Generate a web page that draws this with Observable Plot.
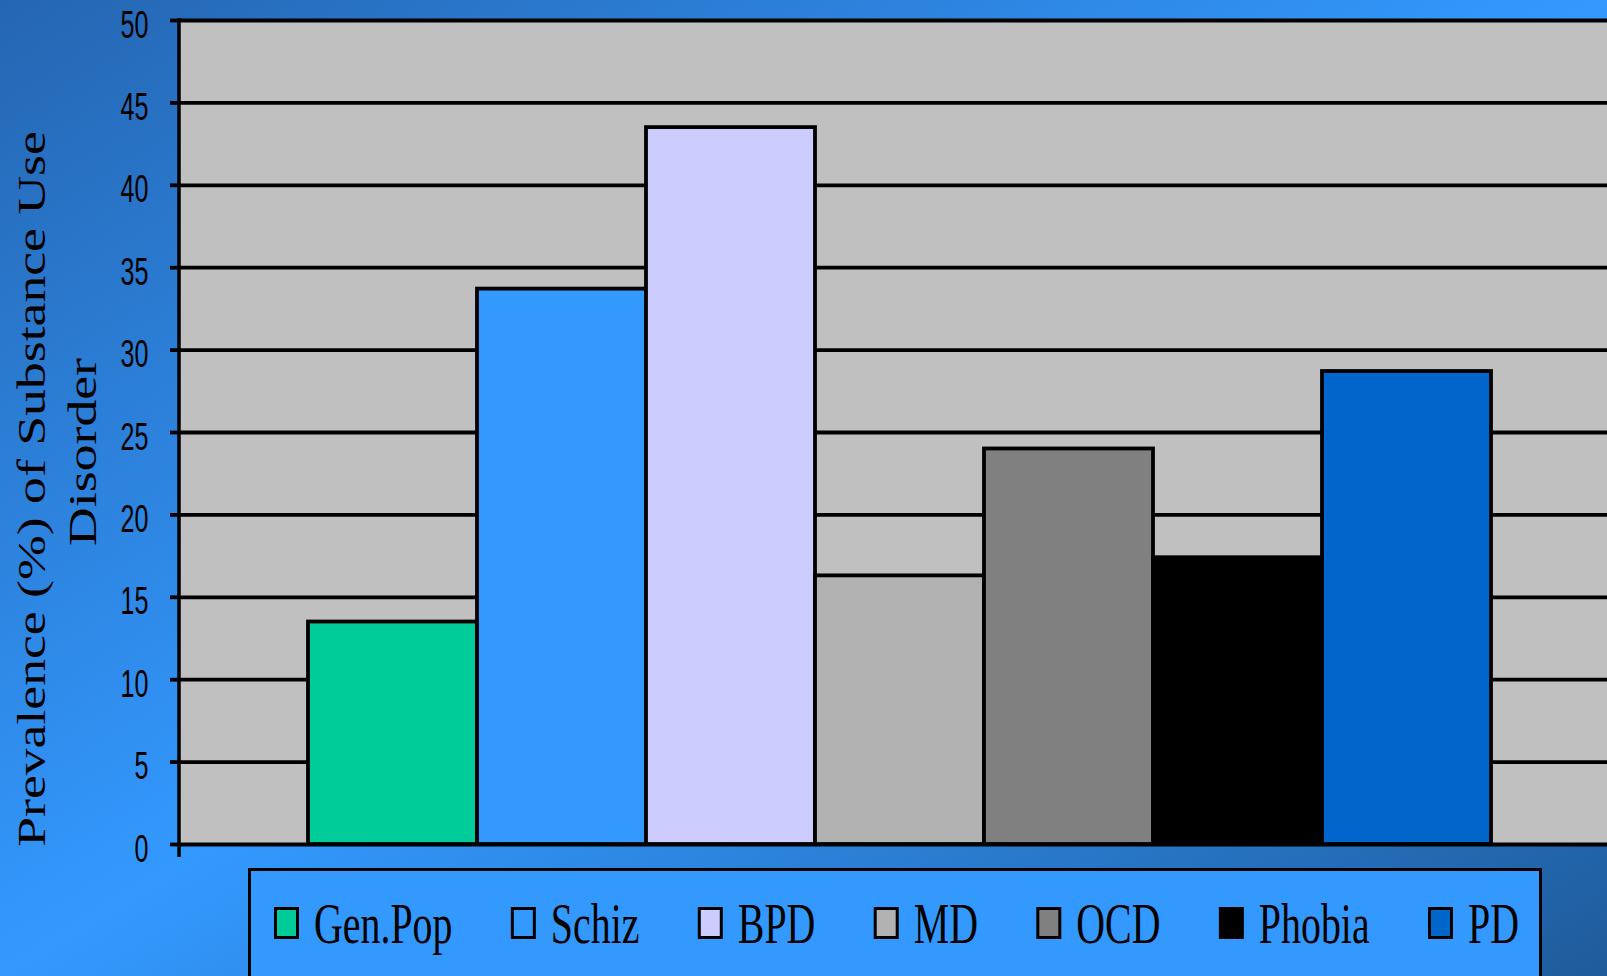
<!DOCTYPE html>
<html>
<head>
<meta charset="utf-8">
<script src="https://cdn.jsdelivr.net/npm/d3@7"></script>
<script src="https://cdn.jsdelivr.net/npm/@observablehq/plot@0.6"></script>
<style>
  html, body { margin: 0; padding: 0; }
  body {
    width: 1607px; height: 976px; overflow: hidden; position: relative;
    background: linear-gradient(to bottom right, #2566b2 0%, #3399ff 50%, #1f5b9b 100%);
  }
  #chart svg { display: block; }
  #legend {
    position: absolute; left: 248px; top: 868px; width: 1294px; height: 140px;
    box-sizing: border-box; border: 3px solid #000; background: #3399ff;
  }
  #legend svg { display: block; }
</style>
</head>
<body>
<div id="chart"></div>
<div id="legend"></div>
<script>
// Prevalence (%) of substance use disorder by diagnosis
const series = ["Gen.Pop", "Schiz", "BPD", "MD", "OCD", "Phobia", "PD"];
const prevalence = [13.5, 33.7, 43.5, 16.3, 24.0, 17.4, 28.7];
const seriesColors = ["#00cc99", "#3399ff", "#ccccff", "#b2b2b2", "#808080", "#000000", "#0066cc"];
const yTicks = [0, 5, 10, 15, 20, 25, 30, 35, 40, 45, 50];
const yLabelLines = ["Prevalence (%) of Substance Use", "Disorder"];

const rows = series.map((s, i) => ({series: s, value: prevalence[i]}));

const W = 1607, H = 866;
const marginLeft = 179;

const plot = Plot.plot({
  width: W,
  height: H,
  marginTop: 20,
  marginBottom: 22,
  marginLeft,
  marginRight: 0,
  style: {background: "transparent", color: "#000", overflow: "visible",
          fontFamily: "'Liberation Sans', Arial, sans-serif"},
  x: {domain: series, range: [marginLeft, 1619], paddingInner: 0, paddingOuter: 0.75, axis: null},
  y: {domain: [0, 50], label: null, axis: null},
  color: {domain: series, range: seriesColors},
  marks: [
    Plot.frame({fill: "#c0c0c0", stroke: null}),
    Plot.ruleY(yTicks, {stroke: "#000", strokeWidth: 3.8}),
    Plot.barY(rows, {x: "series", y: "value", fill: "series", stroke: "#000", strokeWidth: 3.8}),
    Plot.axisY(yTicks, {tickSize: 9, tickPadding: 22, fontSize: 38, stroke: "#000", strokeWidth: 3.8,
                        fill: "#000", label: null})
  ]
});
document.getElementById("chart").appendChild(plot);

const svg = d3.select(plot);
const y = plot.scale("y");

// condensed tick labels, nudged onto their gridlines
svg.selectAll('g[aria-label="y-axis tick label"] text').each(function () {
  const t = this.getAttribute("transform") || "";
  this.setAttribute("transform", `${t} translate(0,5) scale(0.66,1)`);
});

// value axis line, running a little past the baseline
svg.append("line")
  .attr("x1", marginLeft).attr("x2", marginLeft)
  .attr("y1", y.apply(50) - 2).attr("y2", y.apply(0) + 13)
  .attr("stroke", "#000").attr("stroke-width", 3.5);

// rotated two-line axis title
const midY = (y.range[0] + y.range[1]) / 2;
const titleSpecs = [
  {text: yLabelLines[0], x: 45, y: midY + 57},
  {text: yLabelLines[1], x: 96, y: midY + 20}
];
svg.append("g")
  .attr("font-family", "'Liberation Serif', 'Times New Roman', serif")
  .attr("font-size", 41)
  .attr("fill", "#000")
  .attr("text-anchor", "middle")
  .selectAll("text")
  .data(titleSpecs)
  .join("text")
  .attr("transform", d => `translate(${d.x},${d.y}) rotate(-90) scale(1.31,1)`)
  .text(d => d.text);

// legend: swatch + condensed serif label, entries spread across the box
const LW = 1288, LH = 134;
const padL = 23, padR = 20, swW = 25, swH = 32, swGap = 15, squeeze = 0.7;
const lsvg = d3.select("#legend").append("svg").attr("width", LW).attr("height", LH);
const items = lsvg.selectAll("g").data(series).join("g");
items.append("rect")
  .attr("x", 1.5).attr("y", 37.5)
  .attr("width", swW - 3).attr("height", swH - 3)
  .attr("fill", (d, i) => seriesColors[i])
  .attr("stroke", "#000").attr("stroke-width", 3);
const labels = items.append("text")
  .attr("font-family", "'Liberation Serif', 'Times New Roman', serif")
  .attr("font-size", 57)
  .attr("fill", "#000")
  .text(d => d);
const textW = [];
labels.each(function (d, i) { textW[i] = this.getComputedTextLength() * squeeze; });
labels.attr("transform", `translate(${swW + swGap},72) scale(${squeeze},1)`);
const content = d3.sum(textW) + series.length * (swW + swGap);
const gap = (LW - padL - padR - content) / (series.length - 1);
let cursor = padL;
items.attr("transform", (d, i) => {
  const x = cursor;
  cursor += swW + swGap + textW[i] + gap;
  return `translate(${x},0)`;
});
</script>
</body>
</html>
